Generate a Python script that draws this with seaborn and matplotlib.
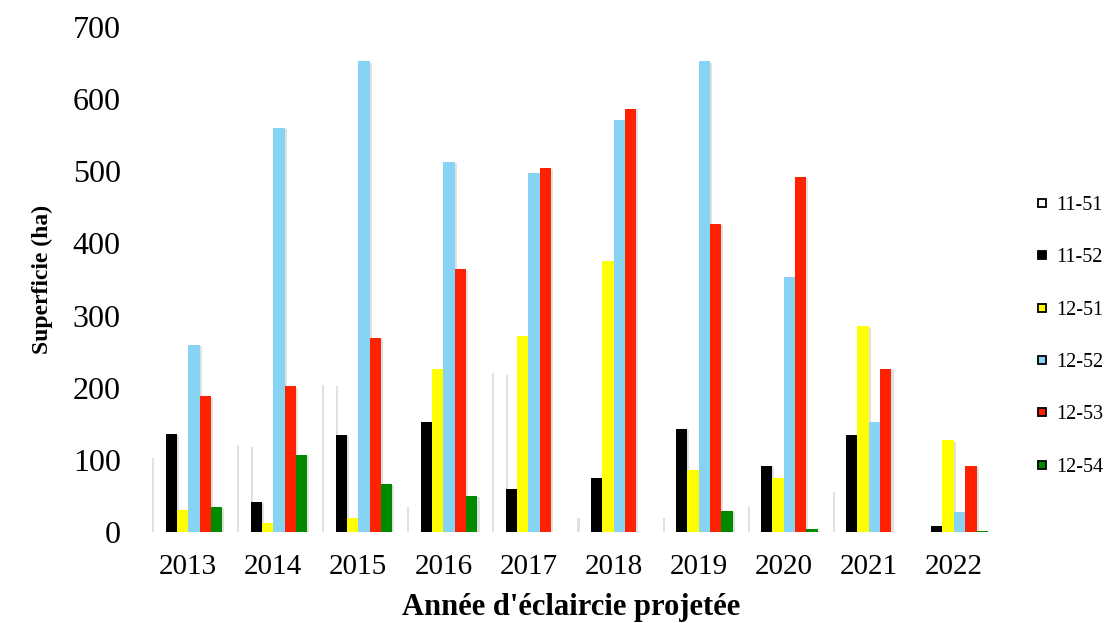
import matplotlib
matplotlib.use("Agg")
import matplotlib.pyplot as plt
import matplotlib.patheffects as pe
from matplotlib.lines import Line2D
import numpy as np
import pandas as pd
import seaborn as sns

# Projected thinning area (ha) per year and stand class
years = ["2013", "2014", "2015", "2016", "2017", "2018", "2019", "2020", "2021", "2022"]
classes = ["11-51", "11-52", "12-51", "12-52", "12-53", "12-54"]

s_11_51 = [102, 120, 204, 35, 220, 20, 20, 35, 55, 0]
s_11_52 = [136, 42, 135, 152, 60, 75, 143, 92, 135, 8]
s_12_51 = [30, 12, 20, 226, 271, 376, 86, 75, 285, 127]
s_12_52 = [259, 560, 652, 513, 498, 571, 652, 354, 152, 28]
s_12_53 = [188, 202, 269, 364, 505, 586, 427, 492, 226, 92]
s_12_54 = [35, 107, 67, 50, 0, 0, 29, 4, 0, 2]

colors = ["#FFFFFF", "#000000", "#FFFF00", "#87D3F3", "#FF2200", "#008A00"]

series = [s_11_51, s_11_52, s_12_51, s_12_52, s_12_53, s_12_54]
df = pd.DataFrame({
    "year": np.tile(years, len(classes)),
    "classe": np.repeat(classes, len(years)),
    "value": np.concatenate([np.asarray(s, dtype=float) for s in series]),
})

sns.set_theme(style="white")
plt.rcParams["font.family"] = ["Liberation Serif", "DejaVu Serif"]
plt.rcParams.update({"text.color": "black", "axes.labelcolor": "black",
                     "xtick.color": "black", "ytick.color": "black"})

fig = plt.figure(figsize=(11.12, 6.23), dpi=100)
ax = fig.add_axes([0.131, 0.146, 0.765, 0.811])

sns.barplot(data=df, x="year", y="value", hue="classe", hue_order=classes,
            order=years, palette=colors, errorbar=None, width=0.8,
            saturation=1, ax=ax, legend=False)

# soft grey drop shadow; white bars also get one on their left edge
grey = "#9a9a9a"
right_shadow = [pe.SimplePatchShadow(offset=(1.5, -1), shadow_rgbFace=grey, alpha=0.3),
                pe.Normal()]
both_shadow = [pe.SimplePatchShadow(offset=(-1.5, 0), shadow_rgbFace=grey, alpha=0.3),
               pe.SimplePatchShadow(offset=(1.5, -1), shadow_rgbFace=grey, alpha=0.3),
               pe.Normal()]
for p in ax.patches:
    p.set_edgecolor("none")
    p.set_linewidth(0)
    is_white = np.allclose(p.get_facecolor()[:3], (1, 1, 1))
    p.set_path_effects(both_shadow if is_white else right_shadow)

ax.set_ylim(0, 700)
ax.set_xlim(-0.5, len(years) - 0.5)
ax.set_yticks(np.arange(0, 701, 100))
for s in ax.spines.values():
    s.set_visible(False)
ax.tick_params(axis="y", length=0, pad=18, labelsize=23)
ax.tick_params(axis="x", length=0, pad=16, labelsize=21)

ax.set_xlabel("Année d'éclaircie projetée", fontsize=22, fontweight="bold", labelpad=9)
ax.set_ylabel("Superficie (ha)", fontsize=17, fontweight="bold", labelpad=14)

handles = [Line2D([0], [0], marker="s", linestyle="none", markersize=6,
                  markerfacecolor=c, markeredgecolor="black", markeredgewidth=1.3)
           for c in colors]
fig.legend(handles, classes, loc="center left", bbox_to_anchor=(0.915, 0.46),
           frameon=False, fontsize=14.5, labelspacing=1.65, handlelength=0.6,
           handletextpad=0.4)

fig.savefig("out.png", dpi=100, facecolor="white")
